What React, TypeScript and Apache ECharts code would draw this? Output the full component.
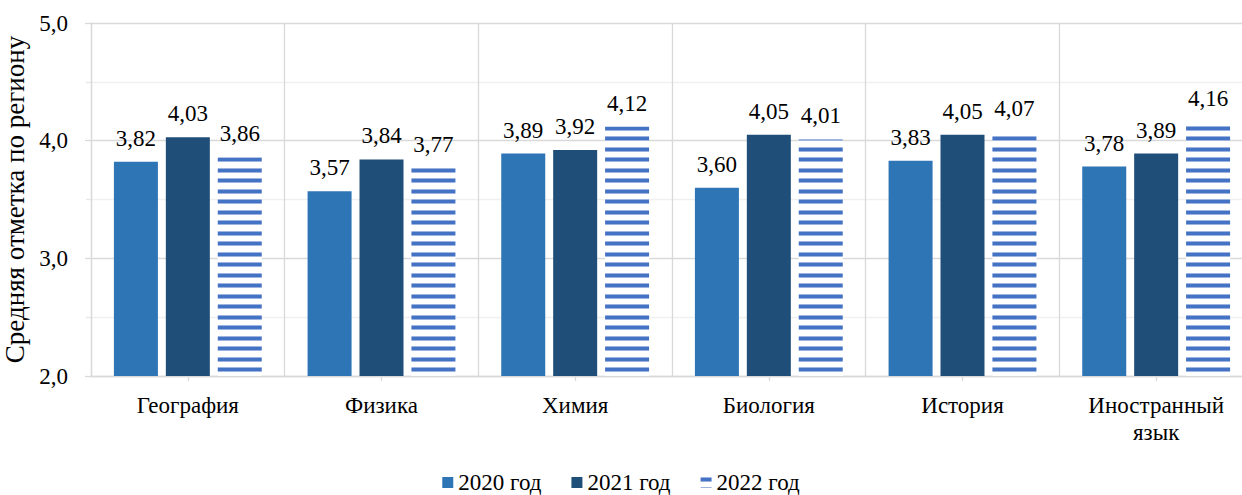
import React, { useEffect, useRef } from "react";
import * as echarts from "echarts";

const categories = ["География", "Физика", "Химия", "Биология", "История", "Иностранный\nязык"];
const seriesNames = ["2020 год", "2021 год", "2022 год"];
const values2020 = [3.82, 3.57, 3.89, 3.6, 3.83, 3.78];
const values2021 = [4.03, 3.84, 3.92, 4.05, 4.05, 3.89];
const values2022 = [3.86, 3.77, 4.12, 4.01, 4.07, 4.16];
const yAxisName = "Средняя отметка по региону";

const FONT = "Liberation Serif";

function makeStripe(): HTMLCanvasElement {
  const c = document.createElement("canvas");
  c.width = 4;
  c.height = 21;
  const ctx = c.getContext("2d")!;
  ctx.fillStyle = "#ffffff";
  ctx.fillRect(0, 0, 4, 21);
  const draw = (y: number) => {
    ctx.fillStyle = "#9db4e0";
    ctx.fillRect(0, y, 4, 1);
    ctx.fillRect(0, y + 4, 4, 1);
    ctx.fillStyle = "#4472C4";
    ctx.fillRect(0, y + 1, 4, 3);
  };
  draw(0);
  draw(10);
  return c;
}

export default function App() {
  const ref = useRef<HTMLDivElement>(null);
  useEffect(() => {
    document.body.style.margin = "0";
    const chart = echarts.init(ref.current!, null, { renderer: "svg" });
    const stripe = makeStripe();
    const fmt = (p: any) => Number(p.value).toFixed(2).replace(".", ",");
    const label = {
      show: true,
      position: "top",
      distance: 12,
      formatter: fmt,
      fontFamily: FONT,
      fontSize: 23,
      color: "#000",
    };
    chart.setOption({
      animation: false,
      textStyle: { fontFamily: FONT },
      grid: { left: 91, top: 23, right: -11, bottom: 119, outerBoundsMode: "none", containLabel: false },
      legend: {
        top: 466,
        left: "center",
        itemWidth: 11,
        itemHeight: 11,
        itemGap: 30,
        textStyle: { fontFamily: FONT, fontSize: 23, color: "#000" },
        data: seriesNames.map((n) => ({ name: n, icon: "rect" })),
      },
      xAxis: {
        type: "category",
        data: categories,
        axisLine: { lineStyle: { color: "#d9d9d9", width: 1.3 } },
        axisTick: { show: true, alignWithLabel: true, length: 5, lineStyle: { color: "#d9d9d9", width: 1.3 } },
        splitLine: { show: true, lineStyle: { color: "#d9d9d9", width: 1.3 } },
        axisLabel: {
          fontFamily: FONT,
          fontSize: 23,
          color: "#000",
          margin: 16,
          lineHeight: 27,
          interval: 0,
        },
      },
      yAxis: {
        type: "value",
        min: 2,
        max: 5,
        interval: 1,
        name: yAxisName,
        nameLocation: "middle",
        nameGap: 70,
        nameTextStyle: { fontFamily: FONT, fontSize: 27, color: "#000", verticalAlign: "middle", align: "center" },
        axisLine: { show: true, lineStyle: { color: "#d9d9d9", width: 1.3 } },
        axisTick: { show: true, length: 6, lineStyle: { color: "#d9d9d9", width: 1.3 } },
        minorTick: { show: true, splitNumber: 2, length: 5, lineStyle: { color: "#e6e6e6", width: 1.3 } },
        splitLine: { show: true, lineStyle: { color: "#d9d9d9", width: 1.3 } },
        minorSplitLine: { show: true, lineStyle: { color: "#f0f0f0", width: 1.3 } },
        axisLabel: {
          fontFamily: FONT,
          fontSize: 23,
          color: "#000",
          margin: 23,
          formatter: (v: number) => v.toFixed(1).replace(".", ","),
        },
      },
      series: [
        {
          name: seriesNames[0],
          type: "bar",
          data: values2020,
          barWidth: 44,
          barGap: "18%",
          itemStyle: { color: "#2E75B6" },
          label,
        },
        {
          name: seriesNames[1],
          type: "bar",
          data: values2021,
          barWidth: 44,
          barGap: "18%",
          itemStyle: { color: "#1F4E79" },
          label,
        },
        {
          name: seriesNames[2],
          type: "bar",
          data: values2022,
          barWidth: 44,
          barGap: "18%",
          itemStyle: { color: { image: stripe, repeat: "repeat" } },
          label,
        },
      ],
    });
    return () => chart.dispose();
  }, []);
  return <div ref={ref} style={{ width: 1242, height: 495 }} />;
}
